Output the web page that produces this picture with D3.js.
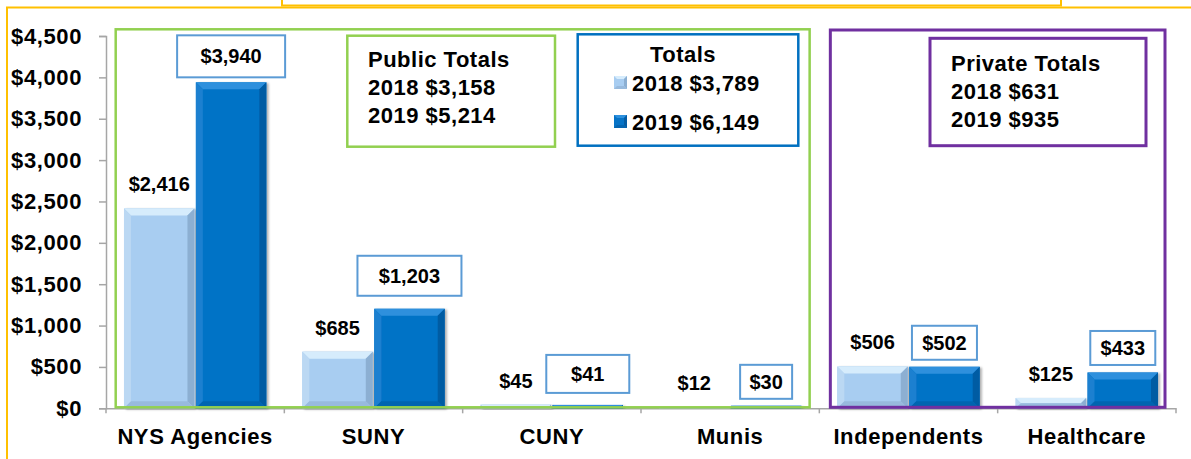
<!DOCTYPE html>
<html>
<head>
<meta charset="utf-8">
<script src="https://cdn.jsdelivr.net/npm/d3@7"></script>
<style>
  body { margin: 0; background: #fff; }
  text { font-family: "Liberation Sans", Arial, sans-serif; font-weight: bold; fill: #000; }
</style>
</head>
<body>
<div id="wrapper"></div>
<script>
// data
const categories = ["NYS Agencies", "SUNY", "CUNY", "Munis", "Independents", "Healthcare"]
const years = ["2018", "2019"]
const values2018 = [2416, 685, 45, 12, 506, 125]
const values2019 = [3940, 1203, 41, 30, 502, 433]
const publicCats = ["NYS Agencies", "SUNY", "CUNY", "Munis"]
const privateCats = ["Independents", "Healthcare"]
const yTicks = [0, 500, 1000, 1500, 2000, 2500, 3000, 3500, 4000, 4500]

// 2019 callout boxes were placed by hand in the original: [lift, halfHeight, width]
const boxLayout = [[19, 21, 108], [26, 20, 104], [24, 19, 83], [17, 17, 52], [17, 17, 65], [17.5, 17, 65]]

const dimensions = {
  width: 1191,
  height: 459,
  margin: { top: 36, right: 15, bottom: 50.7, left: 106 },
}
dimensions.boundedWidth = dimensions.width - dimensions.margin.left - dimensions.margin.right
dimensions.boundedHeight = dimensions.height - dimensions.margin.top - dimensions.margin.bottom

const fmt = v => "$" + d3.format(",")(v)

const svg = d3.select("#wrapper")
  .append("svg")
    .attr("width", dimensions.width)
    .attr("height", dimensions.height)

const defs = svg.append("defs")
const shadow = defs.append("filter").attr("id", "shadow").attr("x", "-10%").attr("y", "-10%").attr("width", "130%").attr("height", "130%")
shadow.append("feDropShadow").attr("dx", 2).attr("dy", 1).attr("stdDeviation", 1.2).attr("flood-color", "#000").attr("flood-opacity", 0.3)

// yellow frame bits from the slide
svg.append("path")
  .attr("d", `M7,459 L7,7.5 L1191,7.5`)
  .attr("fill", "none").attr("stroke", "#FFC000").attr("stroke-width", 2)
svg.append("rect")
  .attr("x", 282).attr("y", -10).attr("width", 779).attr("height", 15.5)
  .attr("fill", "none").attr("stroke", "#FFC000").attr("stroke-width", 2)

const bounds = svg.append("g")
  .attr("transform", `translate(${dimensions.margin.left},${dimensions.margin.top})`)

const xScale = d3.scaleBand()
  .domain(categories)
  .range([0, dimensions.boundedWidth])
  .paddingInner(0).paddingOuter(0)

const xInner = d3.scaleBand()
  .domain(years)
  .range([0, xScale.bandwidth()])
  .paddingInner(0.02).paddingOuter(0.25)

const yScale = d3.scaleLinear()
  .domain([0, 4500])
  .range([dimensions.boundedHeight, 0])

// axes
const yAxis = d3.axisLeft(yScale).tickValues(yTicks).tickFormat(fmt).tickSize(7).tickPadding(17)
const yAxisGroup = bounds.append("g").call(yAxis)
yAxisGroup.select(".domain").attr("stroke", "#A6A6A6").attr("stroke-width", 1.5)
yAxisGroup.selectAll(".tick line").attr("stroke", "#A6A6A6").attr("stroke-width", 1.5)
yAxisGroup.selectAll(".tick text")
  .style("font-size", "22px").style("font-family", "Liberation Sans, Arial, sans-serif")
  .style("font-weight", "bold").attr("fill", "#000").style("letter-spacing", "0.6px")

const xAxis = d3.axisBottom(xScale).tickSize(0).tickFormat(d => d)
const xAxisGroup = bounds.append("g")
  .attr("transform", `translate(0,${dimensions.boundedHeight})`)
  .call(xAxis)
xAxisGroup.select(".domain").attr("stroke", "#A6A6A6").attr("stroke-width", 1.5)
xAxisGroup.selectAll(".tick text")
  .attr("y", 36).attr("dy", 0)
  .style("font-size", "22px").style("font-family", "Liberation Sans, Arial, sans-serif")
  .style("font-weight", "bold").attr("fill", "#000").style("letter-spacing", "0.6px")
// category separators
xAxisGroup.selectAll(".sep")
  .data(categories.concat([null]))
  .join("line")
    .attr("x1", (d, i) => i * xScale.step())
    .attr("x2", (d, i) => i * xScale.step())
    .attr("y1", 0).attr("y2", 5)
    .attr("stroke", "#A6A6A6").attr("stroke-width", 1.5)

// bars with a bevel look
const palette = {
  "2018": { main: "#A8CDF1", top: "#D6ECFC", left: "#BBD8F3", right: "#8CAFD2", bottom: "#98BADD" },
  "2019": { main: "#0673C6", top: "#2D90DD", left: "#1A80D0", right: "#055CA3", bottom: "#0565B0" },
}
const barData = []
categories.forEach((c, i) => {
  barData.push({ cat: c, year: "2018", value: values2018[i], i })
  barData.push({ cat: c, year: "2019", value: values2019[i], i })
})

const barGroups = bounds.selectAll(".bar")
  .data(barData)
  .join("g")
    .attr("class", "bar")
    .attr("transform", d => `translate(${xScale(d.cat) + xInner(d.year)},0)`)
    .attr("filter", "url(#shadow)")

barGroups.each(function(d) {
  const g = d3.select(this)
  const w = xInner.bandwidth()
  const y0 = yScale(d.value)
  const y1 = yScale(0)
  const h = y1 - y0
  const b = Math.min(7, h / 2)
  const p = palette[d.year]
  g.append("rect").attr("x", 0).attr("y", y0).attr("width", w).attr("height", h).attr("fill", p.main)
  g.append("polygon").attr("points", `0,${y0} ${w},${y0} ${w - b},${y0 + b} ${b},${y0 + b}`).attr("fill", p.top)
  g.append("polygon").attr("points", `0,${y0} ${b},${y0 + b} ${b},${y1 - b} 0,${y1}`).attr("fill", p.left)
  g.append("polygon").attr("points", `${w},${y0} ${w},${y1} ${w - b},${y1 - b} ${w - b},${y0 + b}`).attr("fill", p.right)
  g.append("polygon").attr("points", `0,${y1} ${b},${y1 - b} ${w - b},${y1 - b} ${w},${y1}`).attr("fill", p.bottom)
})

// 2018 value labels
bounds.selectAll(".label2018")
  .data(barData.filter(d => d.year == "2018"))
  .join("text")
    .attr("x", d => xScale(d.cat) + xInner(d.year) + xInner.bandwidth() / 2)
    .attr("y", d => yScale(d.value) - 17)
    .attr("text-anchor", "middle")
    .style("font-size", "20px")
    .text(d => fmt(d.value))

// 2019 value labels in boxes
const boxed = bounds.selectAll(".label2019")
  .data(barData.filter(d => d.year == "2019"))
  .join("g")
boxed.append("rect")
  .attr("x", d => xScale(d.cat) + xInner(d.year) + xInner.bandwidth() / 2 - boxLayout[d.i][2] / 2)
  .attr("y", d => yScale(d.value) - boxLayout[d.i][0] - 7 - boxLayout[d.i][1])
  .attr("width", d => boxLayout[d.i][2])
  .attr("height", d => boxLayout[d.i][1] * 2)
  .attr("fill", "#fff").attr("stroke", "#5B9BD5").attr("stroke-width", 2)
boxed.append("text")
  .attr("x", d => xScale(d.cat) + xInner(d.year) + xInner.bandwidth() / 2)
  .attr("y", d => yScale(d.value) - boxLayout[d.i][0])
  .attr("text-anchor", "middle")
  .style("font-size", "20px")
  .text(d => fmt(d.value))

// public / private group frames
const groupFrame = (cats, color, top, sw, inset) => {
  const x0 = xScale(cats[0]) + inset
  const x1 = xScale(cats[cats.length - 1]) + xScale.bandwidth() - inset
  bounds.append("rect")
    .attr("x", x0).attr("y", top - dimensions.margin.top)
    .attr("width", x1 - x0).attr("height", dimensions.boundedHeight - top + dimensions.margin.top - 1)
    .attr("fill", "none").attr("stroke", color).attr("stroke-width", sw)
}
groupFrame(publicCats, "#92D050", 29.3, 2.5, 9.7)
groupFrame(privateCats, "#7030A0", 30, 3, 11)

// totals boxes
const sumOf = (vals, cats) => d3.sum(cats.map(c => vals[categories.indexOf(c)]))

const pub = svg.append("g")
pub.append("rect").attr("x", 347.3).attr("y", 35.7).attr("width", 207.7).attr("height", 111)
  .attr("fill", "#fff").attr("stroke", "#92D050").attr("stroke-width", 2.5)
pub.selectAll("text")
  .data(["Public Totals", `2018 ${fmt(sumOf(values2018, publicCats))}`, `2019 ${fmt(sumOf(values2019, publicCats))}`])
  .join("text")
    .attr("x", 368).attr("y", (d, i) => 66.7 + i * 28)
    .style("font-size", "22px").style("letter-spacing", "0.5px")
    .text(d => d)

const tot = svg.append("g")
tot.append("rect").attr("x", 577.7).attr("y", 34.3).attr("width", 220.6).attr("height", 111.4)
  .attr("fill", "#fff").attr("stroke", "#0070C0").attr("stroke-width", 2.5)
tot.append("text").attr("x", 683).attr("y", 62).attr("text-anchor", "middle")
  .style("font-size", "22px").style("letter-spacing", "0.5px").text("Totals")
const legendItems = [
  { label: `2018 ${fmt(d3.sum(values2018))}`, year: "2018" },
  { label: `2019 ${fmt(d3.sum(values2019))}`, year: "2019" },
]
legendItems.forEach((d, i) => {
  const y = 91 + i * 39
  const p = palette[d.year]
  tot.append("rect").attr("x", 614).attr("y", y - 15).attr("width", 13).attr("height", 13).attr("fill", p.main)
  tot.append("polygon").attr("points", `614,${y - 15} 627,${y - 15} 624,${y - 12} 617,${y - 12}`).attr("fill", p.top)
  tot.append("polygon").attr("points", `627,${y - 15} 627,${y - 2} 624,${y - 5} 624,${y - 12}`).attr("fill", p.right)
  tot.append("polygon").attr("points", `614,${y - 2} 627,${y - 2} 624,${y - 5} 617,${y - 5}`).attr("fill", p.bottom)
  tot.append("text").attr("x", 632).attr("y", y)
    .style("font-size", "22px").style("letter-spacing", "0.5px").text(d.label)
})

const priv = svg.append("g")
priv.append("rect").attr("x", 930).attr("y", 38.3).attr("width", 216).attr("height", 107.4)
  .attr("fill", "#fff").attr("stroke", "#7030A0").attr("stroke-width", 3)
priv.selectAll("text")
  .data(["Private Totals", `2018 ${fmt(sumOf(values2018, privateCats))}`, `2019 ${fmt(sumOf(values2019, privateCats))}`])
  .join("text")
    .attr("x", 951).attr("y", (d, i) => 70.7 + i * 28.3)
    .style("font-size", "22px").style("letter-spacing", "0.5px")
    .text(d => d)
</script>
</body>
</html>
